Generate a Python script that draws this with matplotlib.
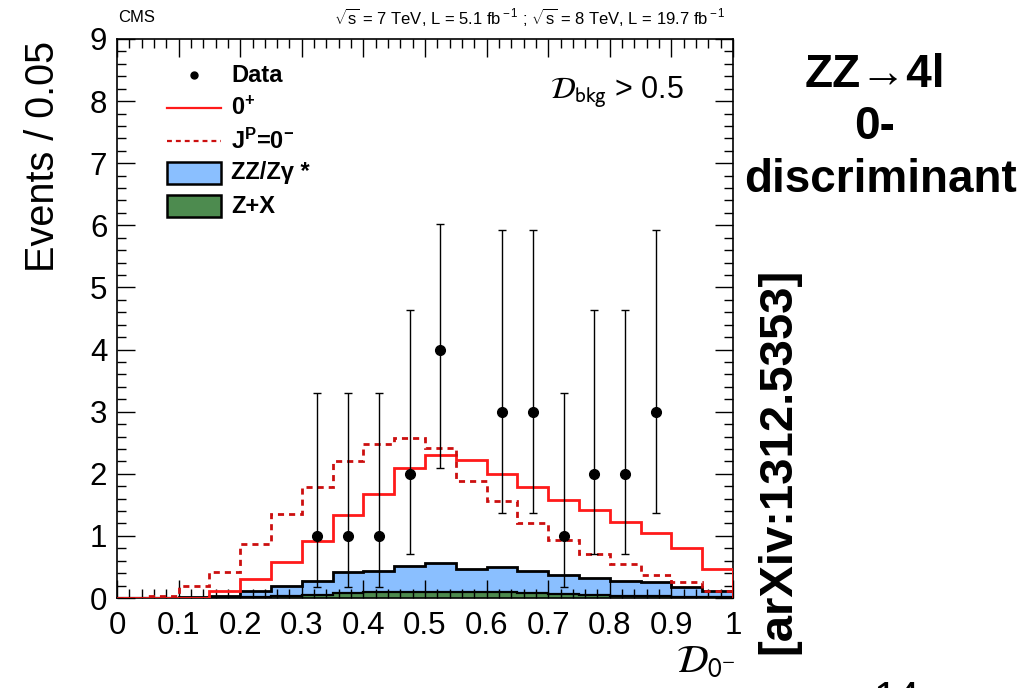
import numpy as np
import matplotlib
matplotlib.use("Agg")
import matplotlib.pyplot as plt
from matplotlib.patches import Rectangle
from matplotlib.lines import Line2D

plt.rcParams['font.family'] = ['Liberation Sans', 'DejaVu Sans']
plt.rcParams['mathtext.fontset'] = 'custom'
plt.rcParams['mathtext.rm'] = 'Liberation Sans'
plt.rcParams['mathtext.it'] = 'Liberation Sans:italic'
plt.rcParams['mathtext.bf'] = 'Liberation Sans:bold'
plt.rcParams['mathtext.sf'] = 'Liberation Sans'

# ---------------- data ----------------
bin_edges = np.round(np.arange(0, 1.0001, 0.05), 3)

sig_0plus = [0.0, 0.0, 0.0, 0.12, 0.30, 0.58, 0.91, 1.33, 1.68, 2.09,
             2.30, 2.22, 1.99, 1.79, 1.58, 1.42, 1.22, 1.04, 0.80, 0.47]
sig_0minus = [0.0, 0.04, 0.19, 0.42, 0.87, 1.35, 1.78, 2.21, 2.48, 2.57,
              2.41, 1.89, 1.56, 1.21, 0.94, 0.71, 0.55, 0.37, 0.26, 0.12]
bkg_total = [0.0, 0.0, 0.01, 0.03, 0.11, 0.19, 0.28, 0.42, 0.44, 0.52,
             0.56, 0.46, 0.50, 0.43, 0.37, 0.32, 0.28, 0.25, 0.17, 0.11]
bkg_zx = [0.0, 0.0, 0.0, 0.01, 0.02, 0.03, 0.05, 0.08, 0.09, 0.09,
          0.09, 0.09, 0.09, 0.08, 0.06, 0.05, 0.04, 0.03, 0.02, 0.02]

data_x = [0.325, 0.375, 0.425, 0.475, 0.525, 0.625, 0.675, 0.725, 0.775, 0.825, 0.875]
data_y = [1, 1, 1, 2, 4, 3, 3, 1, 2, 2, 3]
data_lo = [0.83, 0.83, 0.83, 1.29, 1.91, 1.63, 1.63, 0.83, 1.29, 1.29, 1.63]
data_hi = [2.30, 2.30, 2.30, 2.64, 2.02, 2.92, 2.92, 2.30, 2.64, 2.64, 2.92]

x_ticks = [0, 0.1, 0.2, 0.3, 0.4, 0.5, 0.6, 0.7, 0.8, 0.9, 1]
x_ticklabels = ['0', '0.1', '0.2', '0.3', '0.4', '0.5', '0.6', '0.7', '0.8', '0.9', '1']
y_ticks = list(range(0, 10))

legend_labels = ['Data', r'0$^{\mathbf{+}}$', r'J$^{\mathbf{P}}$=0$^{\mathbf{-}}$', 'ZZ/Zγ *', 'Z+X']

# colours
c_blue = '#8abfff'
c_green = '#4d8b4f'
c_red = '#ff1a1a'
c_red_dash = '#cc0f0f'

W, H = 1022, 688
fig = plt.figure(figsize=(W / 100, H / 100), dpi=100)
ax = fig.add_axes([117 / W, 1 - 598 / H, (733 - 117) / W, (598 - 39) / H])

# backgrounds (stacked)
ax.stairs(bkg_total, bin_edges, fill=True, color=c_blue, zorder=1)
ax.stairs(bkg_total, bin_edges, color='black', lw=2.0, zorder=1.1)
ax.stairs(bkg_zx, bin_edges, fill=True, color=c_green, zorder=1.2)
ax.stairs(bkg_zx, bin_edges, color='black', lw=1.6, zorder=1.3)

# signals
ax.stairs(sig_0plus, bin_edges, color=c_red, lw=2.0, zorder=2.6)
ax.stairs(sig_0minus, bin_edges, color=c_red_dash, lw=2.0, ls=(0, (2.2, 1.8)), zorder=2.7)

# data
ax.errorbar(data_x, data_y, yerr=[data_lo, data_hi], fmt='o', color='black',
            ms=7.0, elinewidth=1.0, capsize=3, capthick=1.0, zorder=3)

ax.set_xlim(0, 1)
ax.set_ylim(0, 9)
ax.set_xticks(x_ticks)
ax.set_xticklabels(x_ticklabels)
ax.set_yticks(y_ticks)
ax.xaxis.set_minor_locator(matplotlib.ticker.MultipleLocator(0.02))
ax.yaxis.set_minor_locator(matplotlib.ticker.MultipleLocator(0.2))
ax.tick_params(which='both', direction='in', top=True, right=True, width=1.0, color='black')
ax.tick_params(which='major', length=13, labelsize=22.5)
ax.tick_params(which='minor', length=6.5)
ax.tick_params(axis='x', which='major', pad=9)
ax.tick_params(axis='y', which='major', pad=7)
for s in ax.spines.values():
    s.set_linewidth(1.2)

ax.set_ylabel('Events / 0.05', fontsize=28.5)
ax.yaxis.set_label_coords(-0.09, 0.79)

# x label
fig.text(735 / W, 1 - 662 / H, r'$\mathcal{D}_{\mathrm{0^{-}}}$', fontsize=28,
         ha='right', va='center', math_fontfamily='stixsans')

# top texts
fig.text(118 / W, 1 - 17 / H, 'CMS', fontsize=12, ha='left', va='center')
fig.text(726 / W, 1 - 17 / H,
         r'$\sqrt{\rm s}$ = 7 TeV, L = 5.1 fb$^{\rm -1}$ ; $\sqrt{\rm s}$ = 8 TeV, L = 19.7 fb$^{\rm -1}$',
         fontsize=12, ha='right', va='center')

# cut text in plot
ax.text(0.92, 0.905, r'$\mathcal{D}_{\mathrm{bkg}}$ > 0.5', transform=ax.transAxes,
        fontsize=22, ha='right', va='center', math_fontfamily='stixsans')

# legend (manual, built from artists in axes coords)
lx0, lx1 = 50 / 616, 104 / 616
ltx = 114 / 616
rows_y = [75, 108, 141, 173, 206]
def ay(py):
    return 1 - (py - 39) / (598 - 39)
ax.plot([(lx0 + lx1) / 2], [ay(rows_y[0])], 'o', color='black', ms=5, transform=ax.transAxes, clip_on=False, zorder=5)
ax.add_line(Line2D([lx0, lx1], [ay(rows_y[1])] * 2, color=c_red, lw=1.6, transform=ax.transAxes))
ax.add_line(Line2D([lx0, lx1], [ay(rows_y[2])] * 2, color=c_red_dash, lw=1.6, ls=(0, (2.2, 1.8)), transform=ax.transAxes))
bh = 22 / (598 - 39)
ax.add_patch(Rectangle((lx0, ay(rows_y[3]) - bh / 2), lx1 - lx0, bh, transform=ax.transAxes,
                       facecolor=c_blue, edgecolor='black', lw=1.8, zorder=5))
ax.add_patch(Rectangle((lx0, ay(rows_y[4]) - bh / 2), lx1 - lx0, bh, transform=ax.transAxes,
                       facecolor=c_green, edgecolor='black', lw=1.8, zorder=5))
for lab, py in zip(legend_labels, rows_y):
    ax.text(ltx, ay(py), lab, transform=ax.transAxes, fontsize=17, fontweight='bold',
            ha='left', va='center')

# right-hand annotations
fig.text(875 / W, 1 - 75 / H, 'ZZ→4l', fontsize=33, fontweight='bold', ha='center', va='center')
fig.text(875 / W, 1 - 127 / H, '0-', fontsize=33, fontweight='bold', ha='center', va='center')
fig.text(880 / W, 1 - 180 / H, 'discriminant', fontsize=33, fontweight='bold', ha='center', va='center')
fig.text(778 / W, 1 - 461 / H, '[arXiv:1312.5353]', fontsize=34, fontweight='bold',
         rotation=90, ha='center', va='center')
fig.text(897 / W, 1 - 680 / H, '14', fontsize=30, ha='center', va='top')

fig.savefig('out.png', dpi=100)
